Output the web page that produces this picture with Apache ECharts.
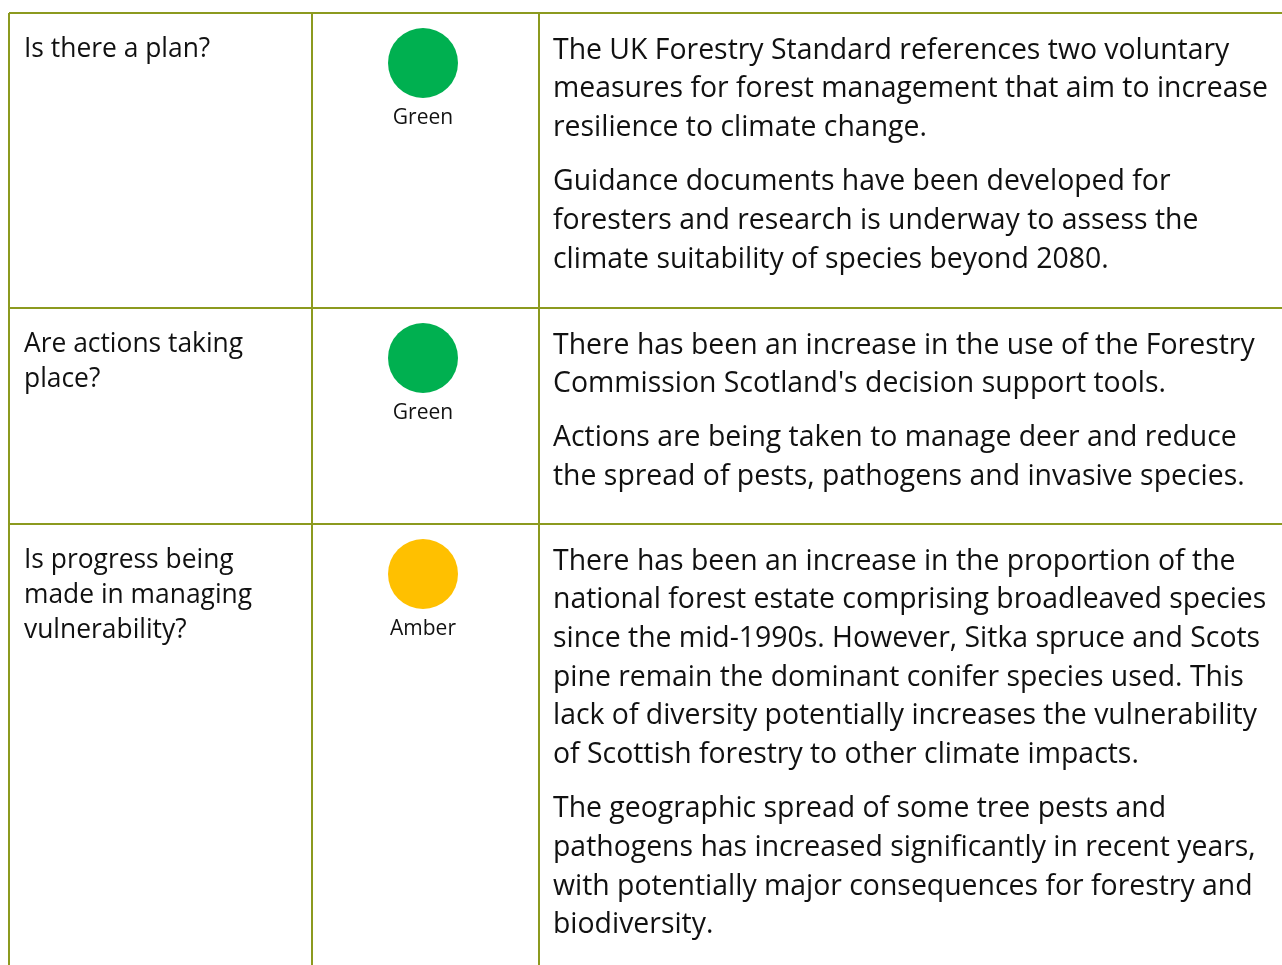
<!DOCTYPE html>
<html><head><meta charset="utf-8">
<script src="https://cdn.jsdelivr.net/npm/echarts@6/dist/echarts.min.js"></script>
<style>html,body{margin:0;padding:0;background:#fff}#c{width:1282px;height:965px}</style>
</head><body><div id="c"></div>
<script>
// ---- data ----
const questions = [
  ["Is there a plan?"],
  ["Are actions taking", "place?"],
  ["Is progress being", "made in managing", "vulnerability?"]
];
const ratings = ["Green", "Green", "Amber"];
const descriptions = [
  [
    ["The UK Forestry Standard references two voluntary", "measures for forest management that aim to increase", "resilience to climate change."],
    ["Guidance documents have been developed for", "foresters and research is underway to assess the", "climate suitability of species beyond 2080."]
  ],
  [
    ["There has been an increase in the use of the Forestry", "Commission Scotland's decision support tools."],
    ["Actions are being taken to manage deer and reduce", "the spread of pests, pathogens and invasive species."]
  ],
  [
    ["There has been an increase in the proportion of the", "national forest estate comprising broadleaved species", "since the mid-1990s. However, Sitka spruce and Scots", "pine remain the dominant conifer species used. This", "lack of diversity potentially increases the vulnerability", "of Scottish forestry to other climate impacts."],
    ["The geographic spread of some tree pests and", "pathogens has increased significantly in recent years,", "with potentially major consequences for forestry and", "biodiversity."]
  ]
];

// ---- layout / style ----
const W = 1282, H = 965;
const FONT = "Open Sans";
const lineColor = "#8c9a1f";
const ratingColor = { Green: "#00b050", Amber: "#ffc000" };
const tableLeft = 9, tableTop = 13, col1 = 312, col2 = 539;
const rowTops = [13, 308, 524];
const qX = 24, qFirst = 36, qLH = 35, qSize = 26.4;
const dX = 553, dFirst = 37.6, dLH = 38.7, dGap = 15.4, dSize = 28.4;
const circleX = 423, circleDY = 50, labelDY = 105, labelSize = 21;

const graphics = [];
graphics.push({ type: 'line', shape: { x1: tableLeft, y1: tableTop, x2: W, y2: tableTop }, style: { stroke: lineColor, lineWidth: 2 } });
rowTops.slice(1).forEach(y => graphics.push({ type: 'line', shape: { x1: tableLeft, y1: y, x2: W, y2: y }, style: { stroke: lineColor, lineWidth: 2 } }));
[tableLeft, col1, col2].forEach(x => graphics.push({ type: 'line', shape: { x1: x, y1: tableTop, x2: x, y2: H }, style: { stroke: lineColor, lineWidth: 2 } }));

questions.forEach((lines, r) => {
  lines.forEach((t, i) => graphics.push({ type: 'text', x: qX, y: rowTops[r] + qFirst + i * qLH,
    style: { text: t, fontFamily: FONT, fontSize: qSize, fill: '#111', verticalAlign: 'middle', align: 'left' } }));
});
descriptions.forEach((paras, r) => {
  let y = rowTops[r] + dFirst;
  paras.forEach((lines, p) => {
    if (p > 0) y += dGap;
    lines.forEach(t => {
      graphics.push({ type: 'text', x: dX, y: y,
        style: { text: t, fontFamily: FONT, fontSize: dSize, fill: '#111', verticalAlign: 'middle', align: 'left' } });
      y += dLH;
    });
  });
});

const circleData = ratings.map((r, i) => ({ value: [circleX, rowTops[i] + circleDY], name: r, itemStyle: { color: ratingColor[r], opacity: 1 } }));
const labelData = ratings.map((r, i) => ({ value: [circleX, rowTops[i] + labelDY], name: r }));

const chart = echarts.init(document.getElementById('c'), null, { renderer: 'canvas' });
chart.setOption({
  backgroundColor: '#fff',
  animation: false,
  grid: { left: 0, right: 0, top: 0, bottom: 0 },
  xAxis: { type: 'value', min: 0, max: W, show: false },
  yAxis: { type: 'value', min: 0, max: H, inverse: true, show: false },
  graphic: graphics,
  series: [
    { type: 'scatter', data: circleData, symbolSize: 70, silent: true, itemStyle: { opacity: 1 } },
    { type: 'scatter', data: labelData, symbolSize: 0, silent: true, itemStyle: { opacity: 1 },
      label: { show: true, position: 'inside', formatter: p => p.name, fontFamily: FONT, fontSize: labelSize, color: '#111', opacity: 1 } }
  ]
});
</script></body></html>
